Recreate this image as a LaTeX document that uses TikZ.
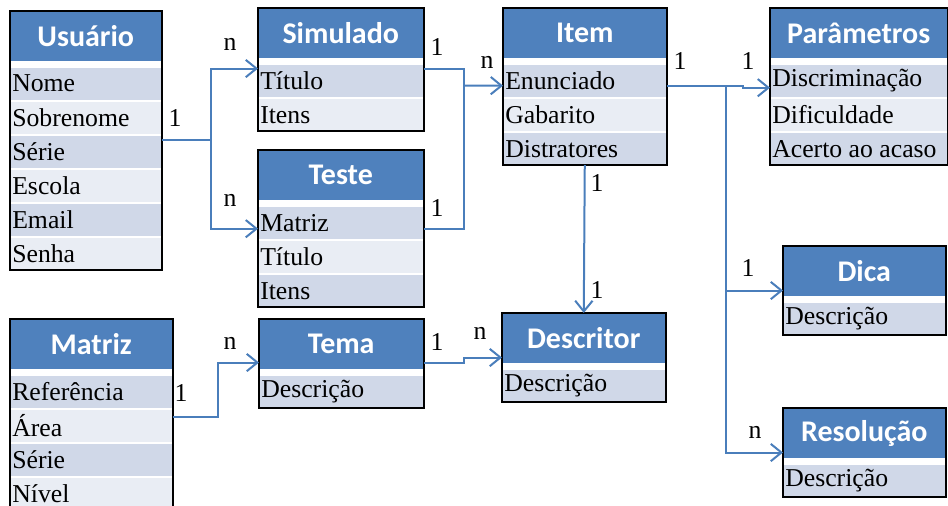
\documentclass[tikz,border=0pt]{standalone}
\usepackage{fontspec}
\setmainfont{Liberation Serif}
\newfontfamily\calibri{Carlito}
\usetikzlibrary{positioning,calc,arrows.meta}

\definecolor{hblue}{HTML}{4F81BD}
\definecolor{cRowA}{HTML}{D0D8E8}
\definecolor{cRowB}{HTML}{E9EDF4}
\definecolor{lblue}{HTML}{4A7EBB}

\begin{document}
\begin{tikzpicture}[x=0.75pt, y=-0.75pt, >={Straight Barb[length=8pt,width=13pt]}]

    \tikzset{
        hdr/.style  = {rectangle, fill=hblue, text=white, font=\calibri\bfseries\fontsize{22.5}{26}\selectfont,
                       minimum width=#1, minimum height=37.5pt, inner sep=0pt},
        rowa/.style = {rectangle, fill=cRowA, font=\rmfamily\fontsize{19.3}{22}\selectfont, align=flush left,
                       text width=#1-3pt, inner xsep=1.5pt, inner ysep=0pt, minimum height=23.85pt},
        rowb/.style = {rowa=#1, fill=cRowB},
        box/.style  = {draw=black, line width=1.5pt},
        line/.style = {draw=lblue, line width=1.5pt},
        card/.style = {font=\rmfamily\fontsize{19.3}{22}\selectfont, inner sep=0pt}
    }

    \useasboundingbox (0,0) rectangle (948,506);

    % Usuario
    \node (usu)  [hdr=113.25pt, anchor=north west] at (10,11)   {Usuário};
    \node (u1)   [rowa=113.25pt, below=4.5pt of usu]            {Nome};
    \node (u2)   [rowb=113.25pt, below=1.3pt of u1]             {Sobrenome};
    \node (u3)   [rowa=113.25pt, below=1.3pt of u2]             {Série};
    \node (u4)   [rowb=113.25pt, below=1.3pt of u3]             {Escola};
    \node (u5)   [rowa=113.25pt, below=1.3pt of u4]             {Email};
    \node (u6)   [rowb=113.25pt, below=1.3pt of u5]             {Senha};
    \draw[box] (usu.north west) rectangle (u6.south east);

    % Simulado
    \node (sim)  [hdr=123.75pt, anchor=north west] at (258,8)   {Simulado};
    \node (s1)   [rowa=123.75pt, below=4.5pt of sim]            {Título};
    \node (s2)   [rowb=123.75pt, below=1.3pt of s1]             {Itens};
    \draw[box] (sim.north west) rectangle (s2.south east);

    % Teste
    \node (tes)  [hdr=123.75pt, anchor=north west] at (258,150) {Teste};
    \node (t1)   [rowa=123.75pt, below=4.5pt of tes]            {Matriz};
    \node (t2)   [rowb=123.75pt, below=1.3pt of t1]             {Título};
    \node (t3)   [rowa=123.75pt, below=1.3pt of t2]             {Itens};
    \draw[box] (tes.north west) rectangle (t3.south east);

    % Item
    \node (item) [hdr=122.25pt, anchor=north west] at (503,8)   {Item};
    \node (i1)   [rowa=122.25pt, below=4.5pt of item]           {Enunciado};
    \node (i2)   [rowb=122.25pt, below=1.3pt of i1]             {Gabarito};
    \node (i3)   [rowa=122.25pt, below=1.3pt of i2]             {Distratores};
    \draw[box] (item.north west) rectangle (i3.south east);

    % Parametros
    \node (par)  [hdr=132.75pt, anchor=north west] at (770,8)   {Parâmetros};
    \node (p1)   [rowa=132.75pt, below=4.5pt of par]            {Discriminação};
    \node (p2)   [rowb=132.75pt, below=1.3pt of p1]             {Dificuldade};
    \node (p3)   [rowa=132.75pt, below=1.3pt of p2]             {Acerto ao acaso};
    \draw[box] (par.north west) rectangle (p3.south east);

    % Matriz
    \node (mat)  [hdr=121.5pt, anchor=north west] at (10,319)   {Matriz};
    \node (m1)   [rowa=121.5pt, below=4.5pt of mat]             {Referência};
    \node (m2)   [rowb=121.5pt, below=1.3pt of m1]              {Área};
    \node (m3)   [rowa=121.5pt, below=1.3pt of m2]              {Série};
    \node (m4)   [rowb=121.5pt, below=1.3pt of m3]              {Nível};
    \draw[box] (mat.north west) rectangle (m4.south east);

    % Tema, Descritor, Dica, Resolucao
    \node (tema) [hdr=123pt, anchor=north west] at (259,319)    {Tema};
    \node (tm1)  [rowa=123pt, below=4.5pt of tema]              {Descrição};
    \draw[box] (tema.north west) rectangle (tm1.south east);

    \node (desc) [hdr=122.25pt, anchor=north west] at (502,313) {Descritor};
    \node (d1)   [rowa=122.25pt, below=4.5pt of desc]           {Descrição};
    \draw[box] (desc.north west) rectangle (d1.south east);

    \node (dica) [hdr=121.5pt, anchor=north west] at (783,246)  {Dica};
    \node (dc1)  [rowa=121.5pt, below=4.5pt of dica]            {Descrição};
    \draw[box] (dica.north west) rectangle (dc1.south east);

    \node (reso) [hdr=121.5pt, anchor=north west] at (783,408)  {Resolução};
    \node (r1)   [rowa=121.5pt, below=4.5pt of reso]            {Descrição};
    \draw[box] (reso.north west) rectangle (r1.south east);

    % connectors
    \draw[line,->] ($(u3.north east)+(0,4)$) -- ++(49,0) |- ($(s1.north west)+(0,4)$);
    \draw[line,->] ($(u3.north east)+(49,4)$) |- ($(t1.west)+(0,6)$);

    \draw[line]    ($(s1.north east)+(0,4)$) -- ++(40,0) |- ($(t1.east)+(0,6)$);
    \draw[line,->] ($(s1.north east)+(40,21)$) -- ($(i1.west)+(0,5)$);

    \draw[line,->] ($(i1.east)+(0,5)$) -- ++(76,0) -- ++(0,2) -- ($(p1.west)+(0,7)$);
    \draw[line,->] ($(i1.east)+(59,5)$) |- ($(dica.south west)+(0,-6)$);
    \draw[line,->] ($(i1.east)+(59,5)$) |- ($(reso.south west)+(0,-6)$);
    \draw[line,->] (i3.south) -- (desc.north);

    \draw[line,->] ($(m2.north east)+(0,7)$) -- ++(45,0) |- ($(tema.south west)+(0,-7)$);
    \draw[line,->] ($(tema.south east)+(0,-7)$) -- ++(40,0) -- ++(0,-5) -- ($(desc.south west)+(0,-6)$);

    % cardinalities
    \node (c1)  [card] at (175,118) {1};
    \node (c2)  [card] at (230,44)  {n};
    \node (c3)  [card] at (230,200) {n};
    \node (c4)  [card] at (437,47)  {1};
    \node (c5)  [card] at (437,208) {1};
    \node (c6)  [card] at (487,62)  {n};
    \node (c7)  [card] at (680,61)  {1};
    \node (c8)  [card] at (748,61)  {1};
    \node (c9)  [card] at (597,183) {1};
    \node (c10) [card] at (597,290) {1};
    \node (c11) [card] at (748,268) {1};
    \node (c12) [card] at (755,432) {n};
    \node (c13) [card] at (181,393) {1};
    \node (c14) [card] at (230,343) {n};
    \node (c15) [card] at (437,342) {1};
    \node (c16) [card] at (480,333) {n};

\end{tikzpicture}
\end{document}
